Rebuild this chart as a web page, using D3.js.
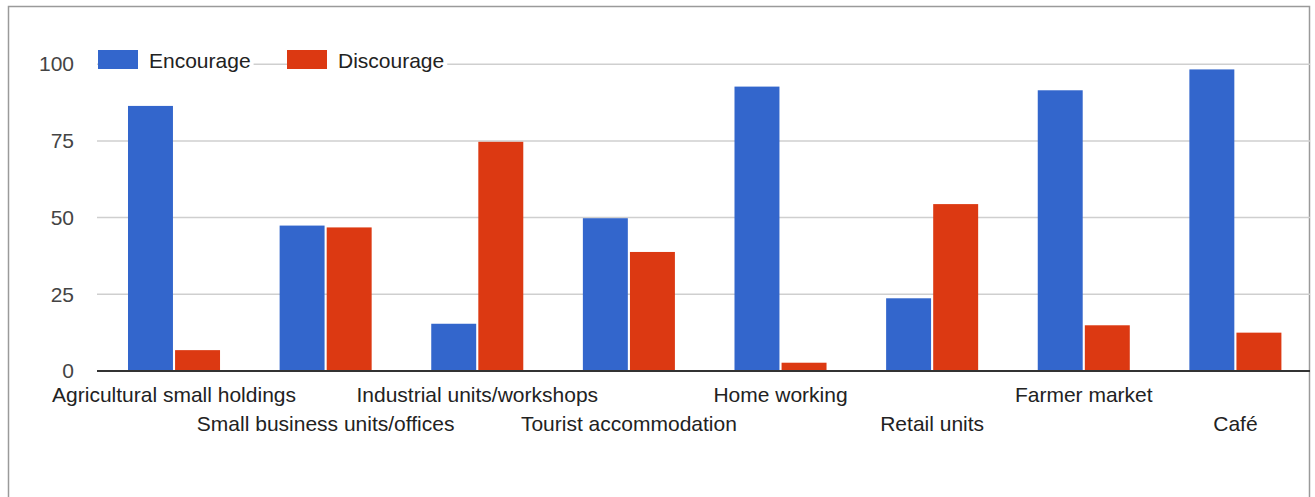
<!DOCTYPE html>
<html>
<head>
<meta charset="utf-8">
<script src="https://cdn.jsdelivr.net/npm/d3@7"></script>
<style>
  html, body { margin: 0; padding: 0; background: #fff; }
  svg { display: block; }
  text { font-family: "Liberation Sans", Arial, sans-serif; }
</style>
</head>
<body>
<svg id="chart" width="1315" height="497"></svg>
<script>
// Categories and series values
const categories = [
  "Agricultural small holdings",
  "Small business units/offices",
  "Industrial units/workshops",
  "Tourist accommodation",
  "Home working",
  "Retail units",
  "Farmer market",
  "Café"
];
const seriesNames = ["Encourage", "Discourage"];
const encourage   = [86.4, 47.4, 15.4, 49.8, 92.7, 23.7, 91.5, 98.3];
const discourage  = [6.8, 46.8, 74.7, 38.8, 2.7, 54.4, 14.9, 12.5];
const yTicks = [0, 25, 50, 75, 100];
const colors = ["#3366cc", "#dc3912"];

const rows = categories.map((c, i) => ({ category: c, values: [encourage[i], discourage[i]] }));

const svg = d3.select("#chart");

// Outer frame
svg.append("rect")
  .attr("x", 8.5).attr("y", 6.5)
  .attr("width", 1301).attr("height", 520)
  .attr("fill", "#fff")
  .attr("stroke", "#9a9a9a")
  .attr("stroke-width", 1.5);

const plot = { left: 97, right: 1310, top: 64.2, bottom: 371 };

// Category bands (shifted half a pixel to sit on the grid)
const x0 = d3.scaleBand()
  .domain(categories)
  .range([plot.left + 1.2, plot.right + 1.2])
  .paddingInner(0.393)
  .paddingOuter(0.1965);

const x1 = d3.scaleBand()
  .domain(seriesNames)
  .range([0, x0.bandwidth()])
  .paddingInner(0.045);

const y = d3.scaleLinear().domain([0, 100]).range([plot.bottom, plot.top]);

// Gridlines
svg.append("g")
  .selectAll("line")
  .data(yTicks.filter(t => t !== 0))
  .join("line")
  .attr("x1", plot.left).attr("x2", plot.right)
  .attr("y1", d => y(d)).attr("y2", d => y(d))
  .attr("stroke", "#cfcfcf")
  .attr("stroke-width", 1.5);

// Y axis labels
const yAxis = d3.axisLeft(y).tickValues(yTicks).tickSize(0).tickPadding(0);
const yg = svg.append("g")
  .attr("transform", `translate(${plot.left - 23},0)`)
  .call(yAxis);
yg.select(".domain").remove();
yg.selectAll("text")
  .attr("font-size", 21)
  .attr("fill", "#444")
  .attr("font-family", "'Liberation Sans', Arial, sans-serif");

// Bars
svg.append("g")
  .selectAll("g")
  .data(rows)
  .join("g")
  .attr("transform", d => `translate(${x0(d.category)},0)`)
  .selectAll("rect")
  .data(d => d.values.map((v, i) => ({ key: seriesNames[i], value: v, i })))
  .join("rect")
  .attr("x", d => x1(d.key))
  .attr("y", d => y(d.value))
  .attr("width", x1.bandwidth())
  .attr("height", d => y(0) - y(d.value))
  .attr("fill", d => colors[d.i]);

// Baseline
svg.append("line")
  .attr("x1", plot.left).attr("x2", plot.right)
  .attr("y1", y(0)).attr("y2", y(0))
  .attr("stroke", "#333")
  .attr("stroke-width", 2);

// X axis labels, staggered over two rows
const xAxis = d3.axisBottom(x0).tickSize(0).tickPadding(0);
const xg = svg.append("g")
  .attr("transform", `translate(0,${plot.bottom})`)
  .call(xAxis);
xg.select(".domain").remove();
xg.selectAll("text")
  .attr("font-size", 21)
  .attr("fill", "#222")
  .attr("font-family", "'Liberation Sans', Arial, sans-serif")
  .attr("dy", null)
  .attr("y", (d, i) => i % 2 === 0 ? 30.5 : 59.5);

// Legend
const legendItems = [
  { name: seriesNames[0], color: colors[0], x: 98 },
  { name: seriesNames[1], color: colors[1], x: 287 }
];
const lg = svg.append("g");
legendItems.forEach(item => {
  const g = lg.append("g").attr("transform", `translate(${item.x},50)`);
  const t = g.append("text")
    .attr("x", 51).attr("y", 18.3)
    .attr("font-size", 21)
    .attr("fill", "#222")
    .text(item.name);
  const w = t.node().getComputedTextLength();
  g.insert("rect", "text")
    .attr("x", 0).attr("y", -2)
    .attr("width", 51 + w + 3).attr("height", 24)
    .attr("fill", "#fff");
  g.insert("rect", "text")
    .attr("x", 0).attr("y", 0)
    .attr("width", 40).attr("height", 19)
    .attr("fill", item.color);
});
</script>
</body>
</html>
